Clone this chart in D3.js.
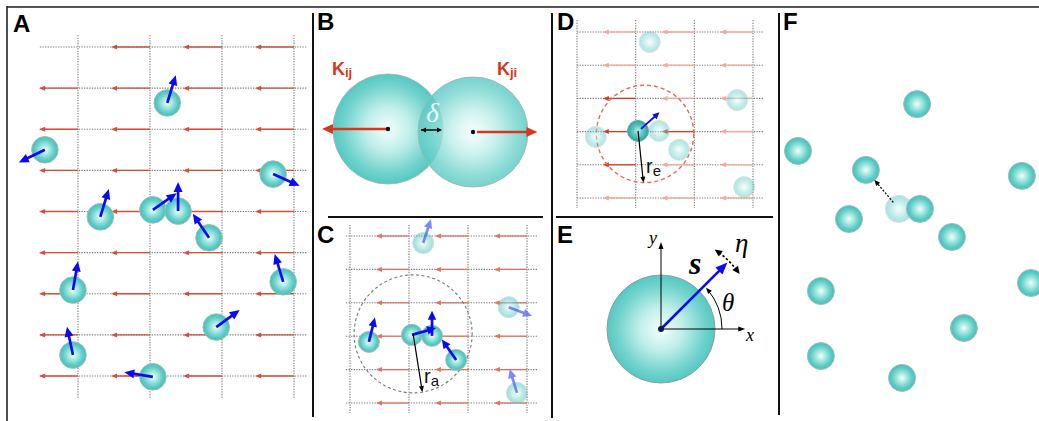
<!DOCTYPE html>
<html>
<head>
<meta charset="utf-8">
<script src="https://cdn.jsdelivr.net/npm/d3@7"></script>
<style>
  html, body { margin: 0; padding: 0; background: #fff; }
  svg { display: block; }
</style>
</head>
<body>
<svg id="fig" width="1039" height="421"></svg>
<script>
// ---------------- data ----------------
// Panel A: swimmers on the flow lattice (lattice units); heading in degrees, counter-clockwise from +x
const gridColsA = [1, 2, 3, 4];
const gridRowsA = [1, 2, 3, 4, 5, 6, 7, 8, 9];
const flowGapsA = [[1, 1]];               // lattice nodes that carry no flow vector
const swimmersA = [
  { x: 2.24, y: 2.36, heading: 73 },
  { x: 0.54, y: 3.50, heading: 206 },
  { x: 3.71, y: 4.09, heading: -24 },
  { x: 1.31, y: 5.13, heading: 73 },
  { x: 2.04, y: 4.96, heading: 35 },
  { x: 2.39, y: 4.99, heading: 90 },
  { x: 2.82, y: 5.64, heading: 124 },
  { x: 3.85, y: 6.71, heading: 107 },
  { x: 0.93, y: 6.91, heading: 80 },
  { x: 2.92, y: 7.81, heading: 36 },
  { x: 0.93, y: 8.49, heading: 102 },
  { x: 2.04, y: 9.02, heading: 171 }
];

// Panel B: two overlapping particles (units of particle radius) and their repulsive forces
const pairB = [
  { x: -0.773, y: 0.000, force: -1.20, sub: "ij" },
  { x:  0.773, y: -0.055, force: 1.17, sub: "ji" }
];

// Panel C: alignment neighbourhood of radius r_a (lattice units)
const gridColsC = [1, 2, 3, 4];
const gridRowsC = [1, 2, 3, 4, 5, 6];
const swimmersC = [
  { x: 2.24, y: 1.21, heading: 72 },
  { x: 3.69, y: 3.13, heading: -21 },
  { x: 3.83, y: 5.70, heading: 107 },
  { x: 1.32, y: 4.17, heading: 76 },
  { x: 2.05, y: 3.96, heading: 16 },
  { x: 2.39, y: 3.99, heading: 90 },
  { x: 2.80, y: 4.71, heading: 125 }
];
const alignRangeC = { x: 2.07, y: 3.93, radius: 1.0, pointer: -81 };

// Panel D: exclusion neighbourhood of radius r_e around a focal swimmer
const gridColsD = [1, 2, 3, 4];
const gridRowsD = [1, 2, 3, 4, 5, 6];
const focalD = { x: 2.04, y: 3.98, heading: 42 };
const neighboursD = [
  { x: 2.24, y: 1.30 },
  { x: 3.73, y: 3.05 },
  { x: 1.32, y: 4.16 },
  { x: 2.40, y: 3.98 },
  { x: 2.74, y: 4.55 },
  { x: 3.85, y: 5.67 }
];
const exclRangeD = { x: 2.16, y: 4.07, radius: 0.83, pointer: -84 };

// Panel E: orientation s at angle theta, with rotational noise eta
const thetaE = 45;          // degrees
const sLengthE = 1.74;      // in particle radii
const etaSpanE = [35, 56];  // degrees swept by the noise arc

// Panel F: cells after a random displacement (cell-diameter-ish units)
const cellsF = [
  [5.35, 3.62], [0.77, 5.42], [3.38, 6.15], [9.38, 6.38], [2.73, 8.04],
  [5.46, 7.65], [6.69, 8.73], [9.73, 10.50], [1.65, 10.81], [7.15, 12.23],
  [1.65, 13.31], [4.77, 14.15]
];
const jumpF = { from: [4.65, 7.65], to: [3.38, 6.15] };

// Panel letters
const panelLetters = ["A", "B", "C", "D", "E", "F"];

// ---------------- drawing ----------------
const svg = d3.select("#fig");
const defs = svg.append("defs");

function sphereGradient(id, stops) {
  const g = defs.append("radialGradient").attr("id", id)
    .attr("cx", "50%").attr("cy", "50%").attr("r", "50%");
  stops.forEach(([o, c]) => g.append("stop").attr("offset", o).attr("stop-color", c));
}
sphereGradient("sph", [[0, "#f1fffb"], [0.3, "#b3ebe5"], [0.72, "#62cec8"], [1, "#42bfb8"]]);
sphereGradient("sphBig", [[0, "#f2fffc"], [0.4, "#c0efea"], [0.8, "#72d3cd"], [1, "#55c8c2"]]);
sphereGradient("sphDark", [[0, "#c8f3ec"], [0.45, "#62cbc4"], [1, "#23a69e"]]);

const GRID_DOT = "#7a7a7a";
const BLUE = "#0b0bef";

function arrow(g, x1, y1, x2, y2, o = {}) {
  const color = o.color || "#000", width = o.width || 1,
        head = o.head || 6, headW = o.headW || 5, opacity = o.opacity == null ? 1 : o.opacity;
  const a = Math.atan2(y2 - y1, x2 - x1);
  const bx = x2 - head * Math.cos(a), by = y2 - head * Math.sin(a);
  const nx = -Math.sin(a) * headW / 2, ny = Math.cos(a) * headW / 2;
  const grp = g.append("g").attr("opacity", opacity);
  grp.append("line")
    .attr("x1", x1).attr("y1", y1)
    .attr("x2", bx + Math.cos(a)).attr("y2", by + Math.sin(a))
    .attr("stroke", color).attr("stroke-width", width)
    .attr("stroke-dasharray", o.dash || null);
  grp.append("path")
    .attr("d", `M${x2},${y2}L${bx + nx},${by + ny}L${bx - nx},${by - ny}Z`)
    .attr("fill", color);
  if (o.both) {
    const cx = x1 + head * Math.cos(a), cy = y1 + head * Math.sin(a);
    grp.append("path")
      .attr("d", `M${x1},${y1}L${cx + nx},${cy + ny}L${cx - nx},${cy - ny}Z`)
      .attr("fill", color);
  }
}

function sphere(g, cx, cy, r, o = {}) {
  g.append("circle")
    .attr("cx", cx).attr("cy", cy).attr("r", r)
    .attr("fill", `url(#${o.grad || "sph"})`)
    .attr("stroke", o.stroke || "#a3bdbb").attr("stroke-width", o.sw || 1)
    .attr("opacity", o.opacity == null ? 1 : o.opacity)
    .attr("fill-opacity", o.fillOpacity == null ? 1 : o.fillOpacity);
}

// lattice with leftward flow vectors
function lattice(g, x, y, cols, rows, o) {
  const [x0, x1] = o.hExtent, [y0, y1] = o.vExtent;
  g.selectAll(null).data(rows).join("line")
    .attr("x1", x(x0)).attr("x2", x(x1)).attr("y1", d => y(d)).attr("y2", d => y(d))
    .attr("stroke", GRID_DOT).attr("stroke-width", 1.1).attr("stroke-dasharray", "1.3,1.3");
  g.selectAll(null).data(cols).join("line")
    .attr("y1", y(y0)).attr("y2", y(y1)).attr("x1", d => x(d)).attr("x2", d => x(d))
    .attr("stroke", GRID_DOT).attr("stroke-width", 1.1).attr("stroke-dasharray", "1.3,1.3");
  rows.forEach(r => cols.forEach(c => {
    if (!o.hasFlow(c, r)) return;
    const tx = x(c), hx = x(c - o.len), yy = y(r);
    arrow(g, tx, yy, hx, yy, { color: o.color(c, r), width: 1.3, head: 6, headW: 5 });
  }));
}

function heading(g, cx, cy, deg, len, o = {}) {
  const a = deg * Math.PI / 180;
  arrow(g, cx, cy, cx + len * Math.cos(a), cy - len * Math.sin(a),
    { color: o.color || BLUE, width: o.width || 2.7, head: o.head || 10, headW: o.headW || 9, opacity: o.opacity });
}

// ---------- frame ----------
const frame = svg.append("g");
frame.append("line").attr("x1", 7).attr("x2", 1039).attr("y1", 7).attr("y2", 7)
  .attr("stroke", "#555").attr("stroke-width", 2);
frame.append("line").attr("x1", 7).attr("x2", 7).attr("y1", 6).attr("y2", 421)
  .attr("stroke", "#222").attr("stroke-width", 1.6);
[[313, 13, 417], [552, 13, 418], [779, 13, 415]].forEach(([xx, a, b]) =>
  frame.append("line").attr("x1", xx).attr("x2", xx).attr("y1", a).attr("y2", b)
    .attr("stroke", "#111").attr("stroke-width", 2));
[[328, 543, 217], [556, 773, 217]].forEach(([a, b, yy]) =>
  frame.append("line").attr("x1", a).attr("x2", b).attr("y1", yy).attr("y2", yy)
    .attr("stroke", "#111").attr("stroke-width", 2));

const letterPos = [[13, 32], [317, 30], [317, 243], [557, 30], [557, 243], [783, 30]];
svg.append("g").selectAll("text").data(panelLetters).join("text")
  .attr("x", (d, i) => letterPos[i][0]).attr("y", (d, i) => letterPos[i][1])
  .attr("font-family", "Liberation Sans, Arial, sans-serif").attr("font-weight", "bold")
  .attr("font-size", 24).attr("fill", "#000").text(d => d);

// ---------- Panel A ----------
{
  const g = svg.append("g");
  const x = d3.scaleLinear().domain([1, 4]).range([78, 294]);
  const y = d3.scaleLinear().domain([1, 9]).range([47, 376]);
  lattice(g, x, y, gridColsA, gridRowsA, {
    hExtent: [0.47, 4.17], vExtent: [0.71, 9.56], len: 0.54,
    hasFlow: (c, r) => !flowGapsA.some(([fc, fr]) => fc === c && fr === r),
    color: () => "#d2503a"
  });
  swimmersA.forEach(s => sphere(g, x(s.x), y(s.y), 13.3));
  swimmersA.forEach(s => heading(g, x(s.x), y(s.y), s.heading, 29));
}

// ---------- Panel B ----------
{
  const g = svg.append("g");
  const R = 55;
  const x = d3.scaleLinear().domain([0, 1]).range([430.5, 430.5 + R]);
  const y = d3.scaleLinear().domain([0, 1]).range([129, 129 - R]);
  pairB.forEach((p, i) => sphere(g, x(p.x), y(p.y), R,
    { grad: "sphBig", fillOpacity: i === 0 ? 1 : 0.8, stroke: "#9fb8b6" }));
  pairB.forEach((p, i) => {
    const cx = x(p.x), cy = y(p.y);
    const start = cx + (p.force > 0 ? 4 : 0);
    arrow(g, start, cy, x(p.x + p.force), cy, { color: "#d5381c", width: 2.4, head: 11, headW: 10 });
    g.append("circle").attr("cx", cx).attr("cy", cy).attr("r", 2.2).attr("fill", "#111");
  });
  // overlap delta
  const rightEdge = x(pairB[0].x + 1), leftEdge = x(pairB[1].x - 1);
  arrow(g, leftEdge + 3, 130, rightEdge - 1, 130, { color: "#000", width: 1.4, head: 5, headW: 5, both: true });
  g.append("text").attr("x", (leftEdge + rightEdge) / 2 + 2).attr("y", 122)
    .attr("text-anchor", "middle").attr("font-family", "Liberation Serif, DejaVu Serif, serif")
    .attr("font-style", "italic").attr("font-size", 27).attr("fill", "#eefaf8").text("δ");
  // force labels
  const labelAt = [[332, 75], [497, 75]];
  pairB.forEach((p, i) => {
    const t = g.append("text").attr("x", labelAt[i][0]).attr("y", labelAt[i][1])
      .attr("font-family", "Liberation Sans, Arial, sans-serif").attr("font-weight", "bold")
      .attr("font-size", 18).attr("fill", "#d5381c");
    t.append("tspan").text("K");
    t.append("tspan").attr("font-size", 13).attr("dy", 2).text(p.sub);
  });
}

// ---------- Panel C ----------
{
  const g = svg.append("g");
  const x = d3.scaleLinear().domain([1, 4]).range([350, 527]);
  const y = d3.scaleLinear().domain([1, 6]).range([236, 403]);
  lattice(g, x, y, gridColsC, gridRowsC, {
    hExtent: [0.93, 4.17], vExtent: [0.67, 6.3], len: 0.56,
    hasFlow: c => c > 1, color: () => "#e07460"
  });
  const cx = x(alignRangeC.x), cy = y(alignRangeC.y);
  const rr = x(1 + alignRangeC.radius) - x(1);
  g.append("circle").attr("cx", cx).attr("cy", cy).attr("r", rr)
    .attr("fill", "none").attr("stroke", "#777").attr("stroke-width", 1.1).attr("stroke-dasharray", "3,2.5");
  const inside = s => Math.hypot(x(s.x) - cx, y(s.y) - cy) < rr;
  swimmersC.forEach(s => sphere(g, x(s.x), y(s.y), 10.5, { opacity: inside(s) ? 1 : 0.5 }));
  swimmersC.forEach(s => heading(g, x(s.x), y(s.y), s.heading, 25,
    inside(s) ? { head: 9, headW: 8.5 } : { color: "#4f63f2", opacity: 0.75, head: 9, headW: 8.5 }));
  const pa = alignRangeC.pointer * Math.PI / 180;
  arrow(g, cx, cy, cx + rr * Math.cos(pa), cy - rr * Math.sin(pa), { width: 1.2, head: 6, headW: 5 });
  const t = g.append("text").attr("x", 424).attr("y", 383)
    .attr("font-family", "Liberation Sans, Arial, sans-serif").attr("font-size", 20).attr("fill", "#111");
  t.append("tspan").text("r");
  t.append("tspan").attr("font-size", 15).attr("dy", 3).text("a");
}

// ---------- Panel D ----------
{
  const g = svg.append("g");
  const x = d3.scaleLinear().domain([1, 4]).range([577, 753]);
  const y = d3.scaleLinear().domain([1, 6]).range([32, 198]);
  const cx = x(exclRangeD.x), cy = y(exclRangeD.y);
  const rr = x(1 + exclRangeD.radius) - x(1);
  lattice(g, x, y, gridColsD, gridRowsD, {
    hExtent: [1, 4.17], vExtent: [0.64, 6.3], len: 0.56,
    hasFlow: c => c > 1,
    color: (c, r) => Math.hypot(x(c - 0.28) - cx, y(r) - cy) < rr - 4 ? "#d43c25" : "#eeaa9e"
  });
  g.append("circle").attr("cx", cx).attr("cy", cy).attr("r", rr)
    .attr("fill", "none").attr("stroke", "#e8685a").attr("stroke-width", 1.4).attr("stroke-dasharray", "4,3");
  neighboursD.forEach(n => sphere(g, x(n.x), y(n.y), 10.5, { opacity: 0.42 }));
  const fx = x(focalD.x), fy = y(focalD.y);
  sphere(g, fx, fy, 10.5, { grad: "sphDark", stroke: "#7fa6a3" });
  heading(g, fx + 3, fy - 2, focalD.heading, 25, { width: 1.8, head: 7, headW: 6.5 });
  const pa = exclRangeD.pointer * Math.PI / 180;
  arrow(g, fx, fy, fx + 52 * Math.cos(pa), fy - 52 * Math.sin(pa), { width: 1.2, head: 6, headW: 5 });
  const t = g.append("text").attr("x", 646).attr("y", 173)
    .attr("font-family", "Liberation Sans, Arial, sans-serif").attr("font-size", 20).attr("fill", "#111");
  t.append("tspan").text("r");
  t.append("tspan").attr("font-size", 15).attr("dy", 3).text("e");
}

// ---------- Panel E ----------
{
  const g = svg.append("g");
  const R = 54;
  const x = d3.scaleLinear().domain([0, 1]).range([661, 661 + R]);
  const y = d3.scaleLinear().domain([0, 1]).range([329, 329 - R]);
  sphere(g, x(0), y(0), R, { grad: "sphBig", stroke: "#8f9f9e" });
  // axes
  arrow(g, x(0), y(0), x(1.56), y(0), { width: 1, head: 7, headW: 5 });
  arrow(g, x(0), y(0), x(0), y(1.61), { width: 1, head: 7, headW: 5 });
  const serif = "Liberation Serif, DejaVu Serif, serif";
  g.append("text").attr("x", 746).attr("y", 341).attr("font-family", serif).attr("font-style", "italic")
    .attr("font-size", 18).text("x");
  g.append("text").attr("x", 649).attr("y", 244).attr("font-family", serif).attr("font-style", "italic")
    .attr("font-size", 18).text("y");
  // theta arc
  const th = thetaE * Math.PI / 180;
  const ra = 61, endA = th - 0.07;
  const ax0 = x(0) + ra, ay0 = y(0);
  const ax1 = x(0) + ra * Math.cos(endA), ay1 = y(0) - ra * Math.sin(endA);
  g.append("path").attr("d", `M${ax0},${ay0}A${ra},${ra} 0 0 0 ${ax1},${ay1}`)
    .attr("fill", "none").attr("stroke", "#000").attr("stroke-width", 1);
  arrow(g, ax1 + 3 * Math.sin(endA), ay1 + 3 * Math.cos(endA), ax1 - 1.5 * Math.sin(endA), ay1 - 1.5 * Math.cos(endA),
    { width: 1, head: 6, headW: 5 });
  g.append("text").attr("x", 722).attr("y", 311).attr("font-family", serif).attr("font-style", "italic")
    .attr("font-size", 25).text("θ");
  // orientation vector
  arrow(g, x(0), y(0), x(sLengthE * Math.cos(th)), y(sLengthE * Math.sin(th)),
    { color: BLUE, width: 2.6, head: 12, headW: 10 });
  g.append("circle").attr("cx", x(0)).attr("cy", y(0)).attr("r", 3).attr("fill", "#0a1a4a");
  g.append("text").attr("x", 689).attr("y", 274).attr("font-family", serif).attr("font-style", "italic")
    .attr("font-weight", "bold").attr("font-size", 32).text("s");
  // noise arc eta
  const re = 96;
  const e0 = etaSpanE[0] * Math.PI / 180, e1 = etaSpanE[1] * Math.PI / 180;
  const p = a => [x(0) + re * Math.cos(a), y(0) - re * Math.sin(a)];
  const q0 = p(e0 + 0.05), q1 = p(e1 - 0.05);
  g.append("path").attr("d", `M${q0[0]},${q0[1]}A${re},${re} 0 0 0 ${q1[0]},${q1[1]}`)
    .attr("fill", "none").attr("stroke", "#000").attr("stroke-width", 1.6).attr("stroke-dasharray", "2.5,2");
  const pe0 = p(e0), pe1 = p(e1);
  arrow(g, q0[0], q0[1], pe0[0], pe0[1], { width: 0.1, head: 7.5, headW: 7 });
  arrow(g, q1[0], q1[1], pe1[0], pe1[1], { width: 0.1, head: 7.5, headW: 7 });
  g.append("text").attr("x", 735).attr("y", 252).attr("font-family", serif).attr("font-style", "italic")
    .attr("font-size", 27).text("η");
}

// ---------- Panel F ----------
{
  const g = svg.append("g");
  const x = d3.scaleLinear().domain([0, 10]).range([778, 1038]);
  const y = d3.scaleLinear().domain([0, 15]).range([10, 400]);
  const r = 13.5;
  sphere(g, x(jumpF.from[0]), y(jumpF.from[1]), r, { opacity: 0.45 });
  cellsF.forEach(([cx, cy]) => sphere(g, x(cx), y(cy), r));
  const gx = x(jumpF.from[0]), gy = y(jumpF.from[1]), tx = x(jumpF.to[0]), ty = y(jumpF.to[1]);
  const d = Math.hypot(tx - gx, ty - gy), ux = (tx - gx) / d, uy = (ty - gy) / d;
  arrow(g, gx + 8.6 * ux, gy + 8.6 * uy, tx - 13 * ux, ty - 13 * uy,
    { width: 1.3, head: 6, headW: 5, dash: "2,1.6" });
}
</script>
</body>
</html>
